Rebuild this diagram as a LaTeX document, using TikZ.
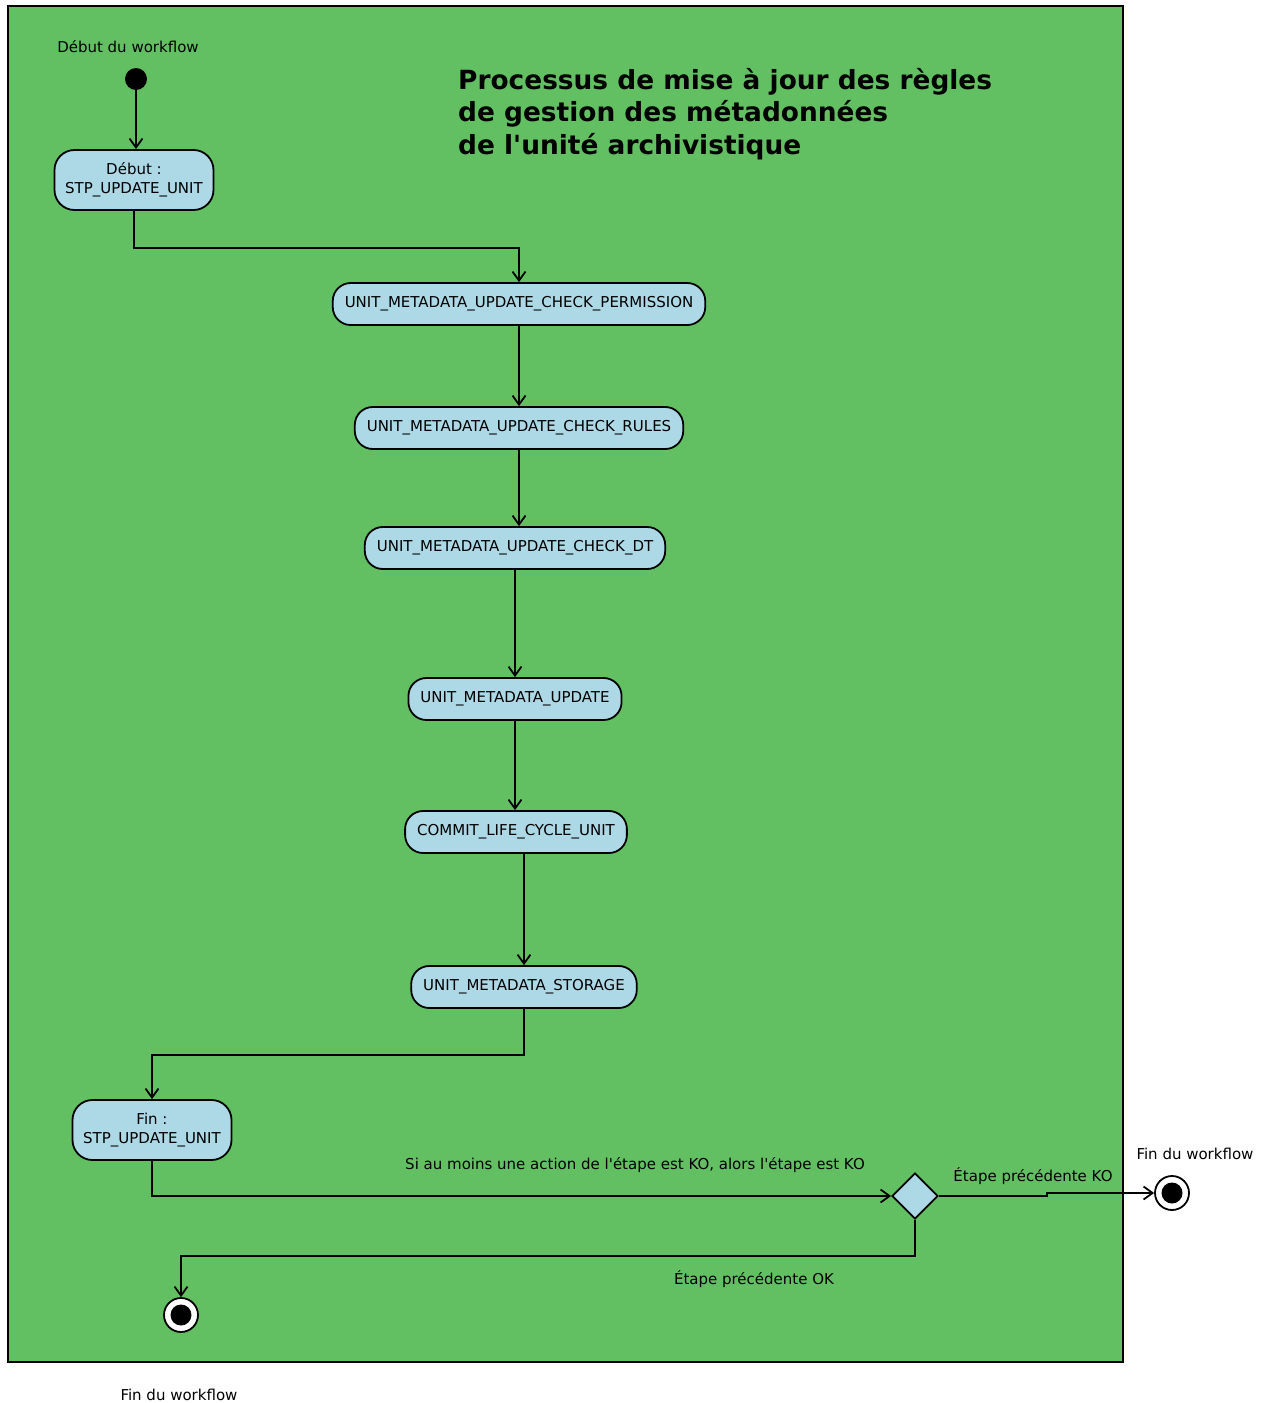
\documentclass[tikz,border=0pt]{standalone}
\usepackage{fontspec}
\setmainfont{DejaVu Sans}
\usepackage{xcolor}
\usepackage{tikz}
\usetikzlibrary{shapes.geometric}
\usetikzlibrary{arrows.meta}
\definecolor{lanegreen}{RGB}{98,192,98}
\definecolor{stepblue}{RGB}{173,216,230}
\begin{document}
\begin{tikzpicture}
[x=1pt,y=-1pt,
>={Straight Barb[length=9pt,width=13pt]},
flow/.style={->,draw=black,line width=1.8pt},
stepbox/.style={rectangle,draw=black,fill=stepblue,line width=1.8pt,rounded corners=18pt,minimum height=42pt,inner xsep=12pt,inner ysep=0pt,font=\fontsize{15}{19}\selectfont,align=center},
bord/.style={rectangle,draw=black,fill=stepblue,line width=1.8pt,rounded corners=20pt,minimum height=60pt,minimum width=159pt,inner sep=0pt,font=\fontsize{15}{19}\selectfont,align=center},
choix/.style={diamond,draw=black,fill=stepblue,line width=1.8pt,minimum width=46pt,minimum height=46pt,inner sep=0pt,aspect=1},
debutpt/.style={circle,fill=black,minimum size=22pt,inner sep=0pt},
finpt/.style={circle,draw=black,fill=white,line width=1.8pt,minimum size=34pt,inner sep=0pt,path picture={\fill[black] (path picture bounding box.center) circle (10.5pt);}},
lbl/.style={inner sep=0pt,font=\fontsize{15}{17}\selectfont}]

\useasboundingbox (0,0) rectangle (1263,1403);
\draw [fill=lanegreen,draw=black,line width=2pt] (8,6) rectangle (1123,1362);

\node at (458,114) [anchor=west,inner sep=0pt,align=left,font=\bfseries\fontsize{26.4}{32.5}\selectfont] (titre)
  {Processus de mise à jour des règles\\de gestion des métadonnées\\de l\textquotesingle unité archivistique};

\node at (128,47)   [lbl] (ldebut) {Début du workflow};
\node at (136,79)   [debutpt] (debut) {};
\node at (134,180)  [bord] (stpdebut) {Début :\\STP\_UPDATE\_UNIT};
\node at (519,304)  [stepbox] (perm)  {UNIT\_METADATA\_UPDATE\_CHECK\_PERMISSION};
\node at (519,428)  [stepbox] (rules) {UNIT\_METADATA\_UPDATE\_CHECK\_RULES};
\node at (515,548)  [stepbox] (dt)    {UNIT\_METADATA\_UPDATE\_CHECK\_DT};
\node at (515,699)  [stepbox] (upd)   {UNIT\_METADATA\_UPDATE};
\node at (516,832)  [stepbox] (commit) {COMMIT\_LIFE\_CYCLE\_UNIT};
\node at (524,987)  [stepbox] (stor)  {UNIT\_METADATA\_STORAGE};
\node at (152,1130) [bord] (stpfin) {Fin :\\STP\_UPDATE\_UNIT};
\node at (915,1196) [choix] (choixko) {};
\node at (1172,1193) [finpt] (finko) {};
\node at (181,1315) [finpt] (finok) {};

\node at (635,1165)  [lbl] (lsi)   {Si au moins une action de l\textquotesingle étape est KO, alors l\textquotesingle étape est KO};
\node at (1033,1176) [lbl] (lko)   {Étape précédente KO};
\node at (754,1279)  [lbl] (lok)   {Étape précédente OK};
\node at (1195,1154) [lbl] (lfinko) {Fin du workflow};
\node at (179,1395)  [lbl] (lfinok) {Fin du workflow};

\draw [flow] (debut.south) -- (debut.south |- stpdebut.north);
\draw [flow] (stpdebut.south) -- ++(0,37) -| (perm.north);
\draw [flow] (perm.south) -- (rules.north);
\draw [flow] (rules.south) -- (rules.south |- dt.north);
\draw [flow] (dt.south) -- (dt.south |- upd.north);
\draw [flow] (upd.south) -- (upd.south |- commit.north);
\draw [flow] (stor.north |- commit.south) -- (stor.north);
\draw [flow] (stor.south) -- ++(0,46) -| (stpfin.north);
\draw [flow] (stpfin.south) |- (choixko.west);
\draw [flow] (choixko.east) -- ++(108,0) |- (finko.west);
\draw [flow] (choixko.south) -- ++(0,36) -| (finok.north);
\end{tikzpicture}
\end{document}
